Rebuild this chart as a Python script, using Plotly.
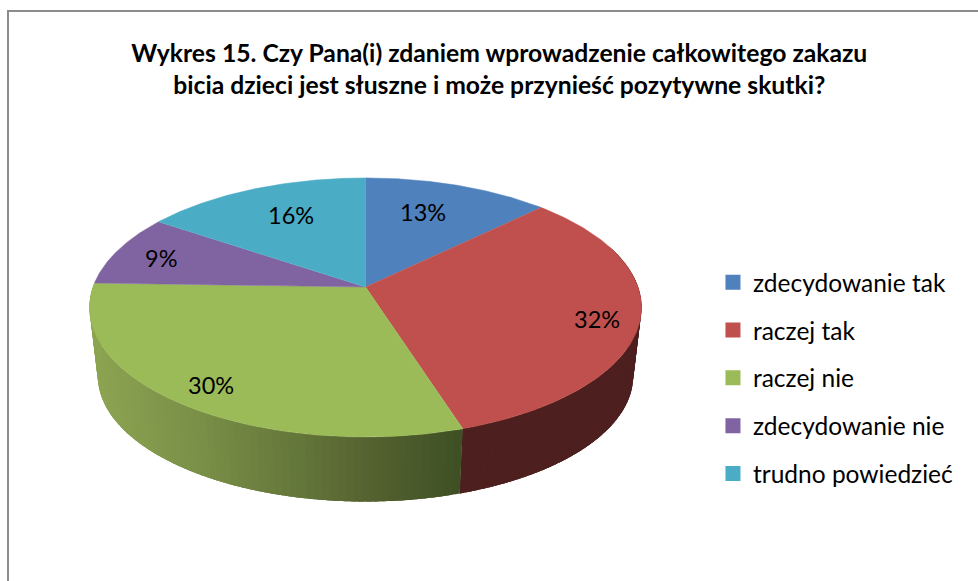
import numpy as np
import plotly.graph_objects as go

# Data (labels show these rounded)
categories = ["zdecydowanie tak", "raczej tak", "raczej nie", "zdecydowanie nie", "trudno powiedzieć"]
percentages = [12.7, 32.4, 30.4, 9.0, 15.5]

colors = ["#4F81BD", "#C0504D", "#9BBB59", "#8064A2", "#4BACC6"]
side_dark_red = "#4D1F1E"
# green wall gets darker towards the right: (x pixel, r, g, b)
green_stops_x = [90, 200, 300, 365, 460]
green_stops_r = [141, 122, 100, 86, 62]
green_stops_g = [165, 143, 118, 99, 80]
green_stops_b = [82, 71, 58, 49, 36]

# Pie projection (canvas pixels), Excel style 3-D perspective
CX, CY = 365.5, 287
A, B, P = 272.5, 126.3, 0.158
WALL_DROP, WALL_SCALE = 69, 0.97

label_x = [423, 597, 211, 161, 291]
label_y = [212, 319, 385, 258, 215]


def project(theta_deg, scale=1.0, drop=0.0):
    t = np.radians(theta_deg)
    w = 1 + P * np.cos(t)
    return CX + scale * A * np.sin(t) / w, CY + drop - scale * B * np.cos(t) / w


def green_at(x):
    r = np.interp(x, green_stops_x, green_stops_r)
    g = np.interp(x, green_stops_x, green_stops_g)
    b = np.interp(x, green_stops_x, green_stops_b)
    return f"rgb({r:.0f},{g:.0f},{b:.0f})"


def wall_piece(t0, t1, color):
    ts = np.linspace(t0, t1, 6)
    x_top, y_top = project(ts)
    x_bot, y_bot = project(ts[::-1], WALL_SCALE, WALL_DROP)
    return go.Scatter(
        x=np.r_[x_top, x_bot], y=np.r_[y_top, y_bot], mode="none", fill="toself",
        fillcolor=color, showlegend=False, hoverinfo="skip",
    )


fig = go.Figure()

bounds = np.r_[0, np.cumsum(percentages)] * 3.6

# Visible wall: red slice then green slice, pieces overlap so no seams show
for t0 in np.arange(70, bounds[2], 1.5):
    fig.add_trace(wall_piece(t0, min(t0 + 4, bounds[2]), side_dark_red))
for t0 in np.arange(bounds[2], bounds[3], 1.5):
    x_mid, _ = project(t0 + 0.75, 0.985, 34)
    fig.add_trace(wall_piece(t0, min(t0 + 4, bounds[3]), green_at(x_mid)))

# Top face
for i, name in enumerate(categories):
    ts = np.linspace(bounds[i], bounds[i + 1], 120)
    x_arc, y_arc = project(ts)
    fig.add_trace(go.Scatter(
        x=np.r_[CX, x_arc], y=np.r_[CY, y_arc], mode="lines", fill="toself",
        fillcolor=colors[i], line=dict(color=colors[i], width=0.5), showlegend=False,
        name=name, hoverinfo="name",
    ))

# Legend entries with square swatches
for name, color in zip(categories, colors):
    fig.add_trace(go.Scatter(
        x=[None], y=[None], mode="markers", name=name, legendgroup=name,
        marker=dict(symbol="square", size=15, color=color),
    ))

for x, y, pct in zip(label_x, label_y, percentages):
    fig.add_annotation(x=x, y=y, text=f"{pct:.0f}%", showarrow=False,
                       font=dict(family="Lato", size=23.5, color="black"))

fig.update_layout(
    width=978, height=581,
    margin=dict(l=0, r=0, t=0, b=0),
    paper_bgcolor="white", plot_bgcolor="white",
    font=dict(family="Lato", color="black"),
    title=dict(
        text="Wykres 15. Czy Pana(i) zdaniem wprowadzenie całkowitego zakazu<br>"
             "bicia dzieci jest słuszne i może przynieść pozytywne skutki?",
        font=dict(family="Lato", size=24.7, color="black", weight="bold"),
        x=0.5105, xanchor="center", y=0.894, yanchor="middle",
    ),
    legend=dict(
        x=0.729, y=0.349, xanchor="left", yanchor="middle",
        font=dict(family="Lato", size=24.5, color="black"),
        tracegroupgap=13, bgcolor="rgba(0,0,0,0)",
    ),
    xaxis=dict(range=[0, 978], visible=False, fixedrange=True),
    yaxis=dict(range=[581, 0], visible=False, fixedrange=True),
    shapes=[dict(type="rect", xref="x", yref="y", x0=8, y0=11, x1=1000, y1=600,
                 line=dict(color="#8C8C8C", width=2), layer="below")],
)

fig.write_html("out.html", config=dict(displayModeBar=False), post_script="document.body.style.margin='0';")
